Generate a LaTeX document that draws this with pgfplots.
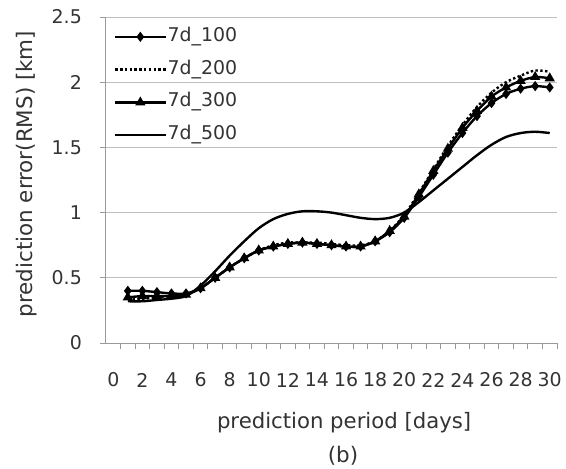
\documentclass[border=0pt]{standalone}
\usepackage{fontspec}
\setmainfont{DejaVu Sans}
\usepackage{pgfplots}
\pgfplotsset{compat=1.18}

\begin{document}
\begin{tikzpicture}
  \begin{axis}[
      scale only axis,
      width=451bp, height=326bp,
      xmin=-0.5, xmax=30.5,
      ymin=0, ymax=2.5,
      axis x line*=bottom,
      axis y line*=left,
      axis line style={black!40, line width=1pt},
      % small ticks between the categories, labels on every other day
      xtick={0.5,1.5,...,30.5},
      xticklabels={},
      extra x ticks={0,2,...,30},
      extra x tick labels={0,2,4,6,8,10,12,14,16,18,20,22,24,26,28,30},
      extra x tick style={major tick length=0pt,
        xticklabel style={font=\fontsize{19}{22}\selectfont, text=black!80,
          inner sep=0pt, anchor=center, yshift=-37bp}},
      ytick={0,0.5,...,2.5},
      yticklabels={0\hspace*{18bp},0.5\hspace*{18bp},1\hspace*{18bp},
        1.5\hspace*{18bp},2\hspace*{18bp},2.5\hspace*{18bp}},
      tick align=outside,
      major tick length=6bp,
      tick style={black!40, line width=0.9pt},
      ymajorgrids,
      grid style={black!25, line width=1pt},
      /pgf/number format/assume math mode=true,
      yticklabel style={font=\fontsize{19}{22}\selectfont, text=black!80,
        inner sep=0pt, anchor=east},
      xlabel={prediction period [days]},
      xlabel style={font=\fontsize{21.3}{25}\selectfont, text=black!80,
        at={(axis description cs:0.528,-0.245)}, anchor=center},
      ylabel={prediction error(RMS) [km]},
      ylabel style={font=\fontsize{21.5}{25}\selectfont, text=black!80,
        at={(axis description cs:-0.177,0.518)}, anchor=center, rotate=0},
      legend style={at={(axis description cs:0.011,0.975)}, anchor=north west,
        draw=none, fill=none,
        font=\fontsize{19}{22}\selectfont, text=black!80,
        nodes={text height=13bp, text depth=4bp, inner sep=1bp},
        row sep=13.8bp},
      legend cell align=left,
      legend image code/.code={\draw[mark repeat=2,mark phase=2,#1]
        plot coordinates {(0bp,0bp) (25bp,0bp) (50bp,0bp)};},
    ]
    % 7d_100
    \addplot[black, line width=2.4pt, smooth, mark=diamond*, mark size=3.2pt, mark options={solid}] coordinates {
      (1,0.40) (2,0.40) (3,0.39) (4,0.38) (5,0.38) (6,0.42) (7,0.50) (8,0.58)
      (9,0.65) (10,0.71) (11,0.74) (12,0.76) (13,0.77) (14,0.76) (15,0.75)
      (16,0.74) (17,0.74) (18,0.78) (19,0.85) (20,0.96) (21,1.12) (22,1.29)
      (23,1.46) (24,1.61) (25,1.74) (26,1.84) (27,1.91) (28,1.95) (29,1.97) (30,1.96)
    };
    \addlegendentry{7d\_100}
    % 7d_200
    \addplot[black, line width=2.4pt, smooth, dash pattern=on 2.4pt off 2.4pt] coordinates {
      (1,0.34) (2,0.34) (3,0.35) (4,0.36) (5,0.37) (6,0.42) (7,0.50) (8,0.58)
      (9,0.65) (10,0.71) (11,0.75) (12,0.77) (13,0.77) (14,0.77) (15,0.76)
      (16,0.75) (17,0.75) (18,0.78) (19,0.86) (20,0.98) (21,1.15) (22,1.33)
      (23,1.51) (24,1.67) (25,1.81) (26,1.92) (27,2.00) (28,2.05) (29,2.09) (30,2.08)
    };
    \addlegendentry{7d\_200}
    % 7d_300
    \addplot[black, line width=2.4pt, smooth, mark=triangle*, mark size=3.6pt, mark options={solid}] coordinates {
      (1,0.35) (2,0.36) (3,0.36) (4,0.36) (5,0.37) (6,0.42) (7,0.50) (8,0.58)
      (9,0.65) (10,0.71) (11,0.74) (12,0.76) (13,0.77) (14,0.76) (15,0.75)
      (16,0.74) (17,0.74) (18,0.78) (19,0.86) (20,0.97) (21,1.14) (22,1.32)
      (23,1.49) (24,1.65) (25,1.78) (26,1.89) (27,1.96) (28,2.01) (29,2.04) (30,2.03)
    };
    \addlegendentry{7d\_300}
    % 7d_500
    \addplot[black, line width=2.4pt, smooth] coordinates {
      (1,0.32) (2,0.32) (3,0.33) (4,0.34) (5,0.36) (6,0.44) (7,0.55) (8,0.67)
      (9,0.78) (10,0.88) (11,0.95) (12,0.99) (13,1.01) (14,1.01) (15,1.00)
      (16,0.98) (17,0.96) (18,0.95) (19,0.96) (20,1.00) (21,1.08) (22,1.17)
      (23,1.26) (24,1.35) (25,1.44) (26,1.52) (27,1.58) (28,1.61) (29,1.62) (30,1.61)
    };
    \addlegendentry{7d\_500}
  \end{axis}
  \node[font=\fontsize{21.5}{25}\selectfont, text=black!80] at (237bp,-113bp) {(b)};
  \pgfresetboundingbox
  \useasboundingbox (-106bp,-126bp) rectangle (460bp,343bp);
\end{tikzpicture}
\end{document}
